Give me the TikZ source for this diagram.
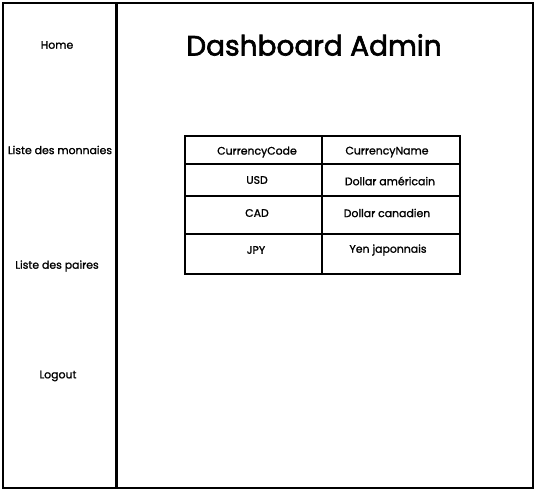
\documentclass[tikz,border=0pt]{standalone}
\usepackage{fontspec}
\setmainfont{Poppins}
\newfontfamily\pmed{Poppins}[FakeBold=1.3]
\newfontfamily\ptitle{Poppins}[FakeBold=2.2]
\begin{document}
\begin{tikzpicture}[x=1pt,y=-1pt,
  panel/.style={draw=black,line width=2pt,inner sep=0pt,anchor=north west},
  cell/.style={draw=black,line width=1.6pt,inner sep=0pt,anchor=north west},
  menu/.style={font=\pmed\fontsize{10.9}{12}\selectfont,inner sep=0pt},
  celltext/.style={font=\pmed\fontsize{10.9}{12}\selectfont,inner sep=0pt},
  title/.style={font=\ptitle\fontsize{28}{30}\selectfont,inner sep=0pt}]
\useasboundingbox (0,0) rectangle (535,489);
\node[panel,minimum width=113pt,minimum height=485pt] (side) at (2,2) {};
\node[panel,minimum width=416pt,minimum height=485pt] (main) at (116,2) {};
\node[menu] (home) at (57,45) {Home};
\node[menu] (monnaies) at (60,150) {Liste des monnaies};
\node[menu] (paires) at (57,266) {Liste des paires};
\node[menu] (logout) at (58,376) {Logout};
\node[title] (ttl) at (314,45) {Dashboard Admin};
% table cells
\node[cell,minimum width=137pt,minimum height=28pt] (h1) at (184,135) {};
\node[cell,minimum width=138pt,minimum height=28pt] (h2) at (321,135) {};
\node[cell,minimum width=137pt,minimum height=32pt] (a1) at (184,163) {};
\node[cell,minimum width=138pt,minimum height=32pt] (a2) at (321,163) {};
\node[cell,minimum width=137pt,minimum height=38pt] (b1) at (184,195) {};
\node[cell,minimum width=138pt,minimum height=38pt] (b2) at (321,195) {};
\node[cell,minimum width=137pt,minimum height=40pt] (c1) at (184,233) {};
\node[cell,minimum width=138pt,minimum height=40pt] (c2) at (321,233) {};
\node[celltext] (t11) at (257,152) {CurrencyCode};
\node[celltext] (t12) at (387,152) {CurrencyName};
\node[celltext] (t21) at (257,180) {USD};
\node[celltext] (t22) at (390,181) {Dollar américain};
\node[celltext] (t31) at (257,213) {CAD};
\node[celltext] (t32) at (387,213) {Dollar canadien};
\node[celltext] (t41) at (256,250) {JPY};
\node[celltext] (t42) at (388,250) {Yen japonnais};
\end{tikzpicture}
\end{document}
